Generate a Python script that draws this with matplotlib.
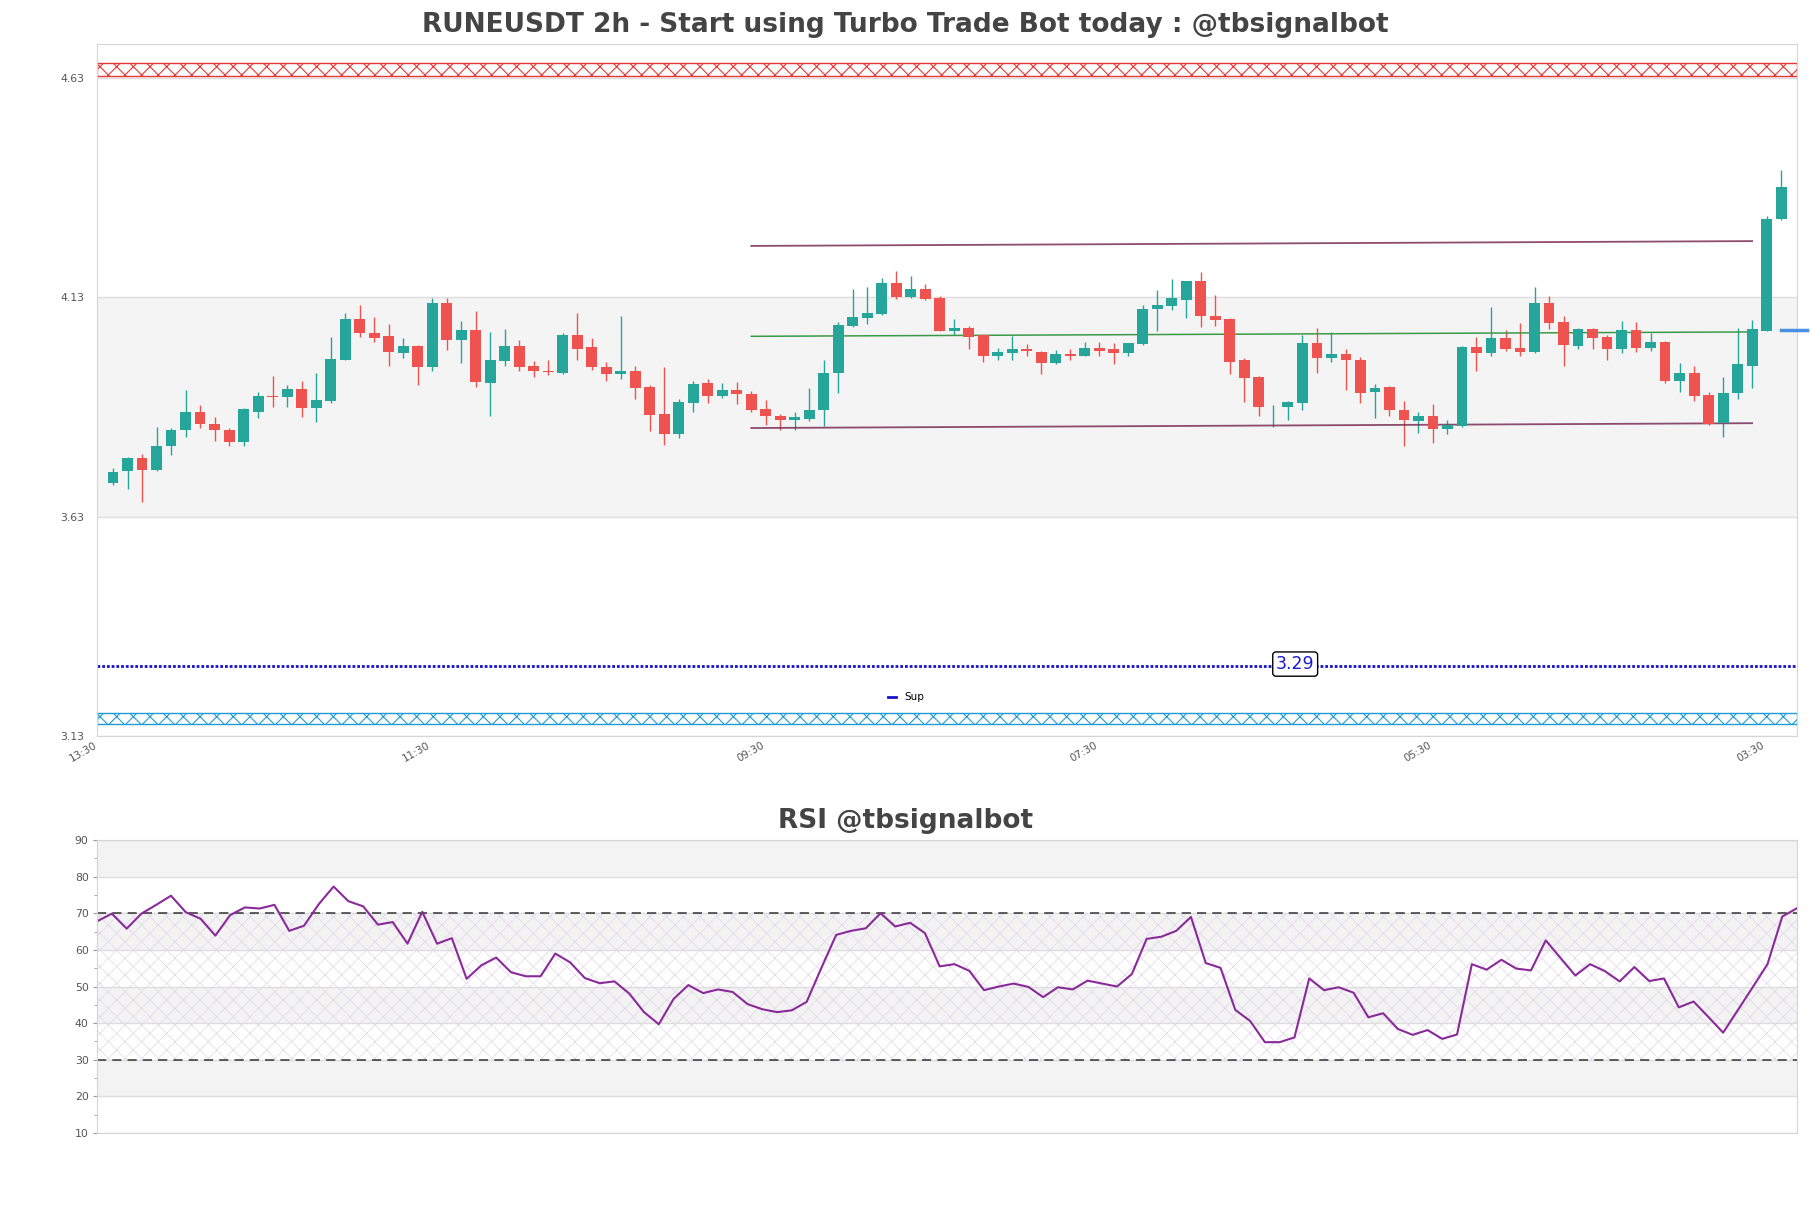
import matplotlib.pyplot as plt
from matplotlib.lines import Line2D
from matplotlib.ticker import MultipleLocator

plt.rcParams['hatch.linewidth'] = 0.8

# candle data (2h candles)
opens = [3.707, 3.734, 3.763, 3.736, 3.791, 3.827, 3.869, 3.842, 3.828, 3.801,
         3.869, 3.906, 3.902, 3.921, 3.877, 3.894, 3.988, 4.080, 4.048, 4.042,
         4.004, 4.019, 3.972, 4.116, 4.033, 4.055, 3.934, 3.984, 4.019, 3.974,
         3.963, 3.958, 4.044, 4.017, 3.971, 3.954, 3.962, 3.926, 3.864, 3.818,
         3.890, 3.935, 3.904, 3.918, 3.910, 3.876, 3.860, 3.850, 3.853, 3.872,
         3.958, 4.065, 4.083, 4.092, 4.162, 4.131, 4.148, 4.128, 4.054, 4.060,
         4.043, 3.997, 4.002, 4.011, 4.005, 3.981, 4.000, 3.997, 4.014, 4.011,
         4.004, 4.023, 4.104, 4.110, 4.124, 4.166, 4.087, 4.080, 3.986, 3.949,
         3.879, 3.879, 3.890, 4.026, 3.992, 4.001, 3.987, 3.913, 3.926, 3.874,
         3.847, 3.860, 3.829, 3.837, 4.017, 4.004, 4.037, 4.014, 4.006, 4.116,
         4.073, 4.020, 4.058, 4.039, 4.011, 4.055, 4.015, 4.028, 3.940, 3.958,
         3.908, 3.843, 3.911, 3.974, 4.054, 4.309]
closes = [3.732, 3.763, 3.736, 3.792, 3.828, 3.869, 3.841, 3.827, 3.800, 3.875,
          3.906, 3.902, 3.921, 3.877, 3.896, 3.989, 4.080, 4.048, 4.038, 4.006,
          4.019, 3.972, 4.116, 4.033, 4.055, 3.936, 3.987, 4.019, 3.972, 3.961,
          3.959, 4.044, 4.013, 3.970, 3.954, 3.962, 3.924, 3.861, 3.819, 3.892,
          3.933, 3.906, 3.918, 3.909, 3.872, 3.859, 3.850, 3.856, 3.872, 3.958,
          4.067, 4.085, 4.094, 4.162, 4.130, 4.148, 4.126, 4.054, 4.060, 4.040,
          3.995, 4.005, 4.011, 4.007, 3.981, 4.000, 3.997, 4.014, 4.008, 4.004,
          4.026, 4.104, 4.113, 4.128, 4.166, 4.088, 4.079, 3.983, 3.946, 3.879,
          3.881, 3.892, 4.026, 3.992, 4.001, 3.986, 3.912, 3.924, 3.872, 3.850,
          3.860, 3.829, 3.840, 4.017, 4.004, 4.037, 4.013, 4.006, 4.116, 4.072,
          4.022, 4.058, 4.038, 4.011, 4.055, 4.015, 4.028, 3.940, 3.958, 3.906,
          3.841, 3.912, 3.978, 4.058, 4.309, 4.382]
highs = [3.740, 3.766, 3.772, 3.835, 3.831, 3.919, 3.885, 3.858, 3.831, 3.878,
         3.915, 3.951, 3.930, 3.940, 3.958, 4.039, 4.095, 4.112, 4.085, 4.069,
         4.037, 4.022, 4.129, 4.129, 4.076, 4.098, 4.051, 4.058, 4.032, 3.985,
         3.988, 4.048, 4.094, 4.038, 3.982, 4.087, 3.974, 3.930, 3.971, 3.899,
         3.940, 3.943, 3.935, 3.937, 3.916, 3.896, 3.864, 3.869, 3.924, 3.986,
         4.073, 4.148, 4.153, 4.173, 4.189, 4.178, 4.160, 4.132, 4.080, 4.064,
         4.045, 4.014, 4.042, 4.023, 4.007, 4.010, 4.011, 4.029, 4.029, 4.025,
         4.026, 4.113, 4.147, 4.171, 4.168, 4.187, 4.135, 4.082, 3.991, 3.951,
         3.884, 3.894, 4.045, 4.060, 4.051, 4.012, 3.993, 3.933, 3.928, 3.893,
         3.869, 3.887, 3.851, 4.020, 4.039, 4.107, 4.055, 4.072, 4.153, 4.133,
         4.087, 4.060, 4.061, 4.043, 4.076, 4.073, 4.049, 4.030, 3.980, 3.974,
         3.915, 3.949, 4.060, 4.078, 4.316, 4.420]
lows = [3.702, 3.693, 3.664, 3.734, 3.770, 3.811, 3.832, 3.802, 3.791, 3.791,
        3.854, 3.881, 3.879, 3.856, 3.845, 3.890, 3.986, 4.040, 4.027, 3.974,
        3.992, 3.931, 3.963, 4.010, 3.981, 3.926, 3.859, 3.974, 3.961, 3.949,
        3.952, 3.956, 3.988, 3.965, 3.940, 3.943, 3.897, 3.825, 3.793, 3.809,
        3.869, 3.888, 3.900, 3.886, 3.869, 3.840, 3.827, 3.828, 3.847, 3.836,
        3.911, 4.063, 4.070, 4.090, 4.126, 4.128, 4.123, 4.052, 4.045, 4.011,
        3.983, 3.988, 3.988, 3.997, 3.955, 3.979, 3.988, 3.995, 3.997, 3.978,
        3.997, 4.021, 4.053, 4.101, 4.083, 4.063, 4.065, 3.954, 3.891, 3.859,
        3.834, 3.850, 3.872, 3.958, 3.982, 3.918, 3.890, 3.854, 3.859, 3.791,
        3.821, 3.797, 3.818, 3.834, 3.963, 3.997, 4.008, 3.997, 4.002, 4.058,
        3.974, 4.011, 4.011, 3.988, 4.002, 4.006, 4.008, 3.934, 3.915, 3.893,
        3.840, 3.811, 3.897, 3.924, 4.052, 4.307]

rsi = [67.8, 69.9, 65.8, 69.9, 72.3, 74.8, 70.3, 68.5, 63.9, 69.5,
       71.6, 71.3, 72.3, 65.2, 66.6, 72.5, 77.3, 73.3, 71.9, 66.9,
       67.6, 61.7, 70.4, 61.7, 63.2, 52.1, 55.8, 57.9, 53.9, 52.8,
       52.8, 59.0, 56.6, 52.3, 50.9, 51.4, 48.1, 43.0, 39.7, 46.6,
       50.4, 48.2, 49.2, 48.5, 45.2, 43.8, 43.0, 43.5, 45.8, 55.1,
       64.1, 65.2, 65.9, 70.0, 66.4, 67.4, 64.6, 55.5, 56.1, 54.3,
       49.0, 50.0, 50.8, 49.9, 47.1, 49.8, 49.2, 51.6, 50.8, 50.0,
       53.4, 63.0, 63.6, 65.2, 69.0, 56.4, 55.1, 43.6, 40.6, 34.8,
       34.8, 36.1, 52.2, 49.0, 49.8, 48.3, 41.6, 42.7, 38.4, 36.8,
       38.1, 35.7, 36.9, 56.1, 54.6, 57.3, 54.9, 54.4, 62.6, 57.8,
       53.0, 56.1, 54.2, 51.4, 55.3, 51.5, 52.2, 44.3, 45.9, 41.7,
       37.4, 43.6, 49.8, 56.1, 69.1, 71.4]

# x tick labels (every 23 candles)
tick_pos = [-1, 22, 45, 68, 91, 114]
tick_labels = ["13:30", "11:30", "09:30", "07:30", "05:30", "03:30"]
price_ticks = [3.13, 3.63, 4.13, 4.63]

# levels and channel
sup_level = 3.29
resist_zone = (4.635, 4.664)
support_zone = (3.157, 3.182)
trend_x = [44, 113]
trend_upper = [4.247, 4.258]
trend_mid = [4.041, 4.051]
trend_lower = [3.832, 3.843]
last_x = [115.0, 116.8]
last_level = [4.055, 4.055]

GREEN = '#26a69a'
RED = '#ef5350'
TXT = '#444444'

fig = plt.figure(figsize=(18.11, 12.08), dpi=100)
ax = fig.add_axes([0.0536, 0.3907, 0.9387, 0.5728])
ax2 = fig.add_axes([0.0536, 0.0621, 0.9387, 0.2425])

# --- price chart ---
ax.axhspan(3.63, 4.13, color='#f4f4f4', zorder=0, lw=0)
for y in price_ticks:
    ax.axhline(y, color='#dedede', lw=1, zorder=0.5)

for i in range(len(opens)):
    o, c = opens[i], closes[i]
    col = GREEN if c >= o else RED
    ax.vlines(i, lows[i], highs[i], color=col, lw=1, zorder=2)
    h = max(abs(c - o), 0.002)
    ax.bar(i, h, bottom=min(o, c), width=0.75, color=col, zorder=3, lw=0)

p = ax.axhspan(*resist_zone, facecolor='none', edgecolor='#e53935', hatch='xx', lw=1, zorder=1)
if hasattr(p, 'set_hatch_linewidth'):
    p.set_hatch_linewidth(0.8)
p = ax.axhspan(*support_zone, facecolor='none', edgecolor='#1e9bd7', hatch='xx', lw=1, zorder=1)
if hasattr(p, 'set_hatch_linewidth'):
    p.set_hatch_linewidth(0.8)

ax.axhline(sup_level, color='#1515c8', ls=(0, (1, 0.7)), lw=2, zorder=2)
ax.text(81.5, sup_level + 0.004, f"{sup_level:.2f}", color='#1a1ad0', fontsize=12.5,
        ha='center', va='center', zorder=5,
        bbox=dict(boxstyle='round,pad=0.18', fc='white', ec='black', lw=1))

ax.plot(trend_x, trend_upper, color='#7a2e55', lw=1.3, alpha=0.85, zorder=2)
ax.plot(trend_x, trend_mid, color='#3a9a4a', lw=1.1, zorder=2)
ax.plot(trend_x, trend_lower, color='#7a2e55', lw=1.3, alpha=0.85, zorder=2)
ax.plot(last_x, last_level, color='#4a90e2', lw=2.5, clip_on=False, zorder=4)

ax.legend(handles=[Line2D([], [], color='#1515c8', lw=2)], labels=['Sup'],
          loc='lower center', bbox_to_anchor=(0.476, 0.035), frameon=False,
          fontsize=7.5, handlelength=0.8)

ax.set_xlim(-1.1, 116.1)
ax.set_ylim(3.13, 4.707)
ax.set_yticks(price_ticks)
ax.set_yticklabels([f"{v:.2f}" for v in price_ticks])
ax.set_xticks(tick_pos)
ax.set_xticklabels(tick_labels, rotation=30, ha='right')
ax.tick_params(axis='x', length=0, labelsize=7.5, labelcolor='#555555', pad=3)
ax.tick_params(axis='y', length=0, labelsize=7.8, labelcolor='#555555', pad=9)
for s in ax.spines.values():
    s.set_color('#d5d5d5')

fig.text(0.5, 0.9795, "RUNEUSDT 2h - Start using Turbo Trade Bot today : @tbsignalbot",
         ha='center', va='center', fontsize=19, fontweight='bold', color=TXT)

# --- RSI ---
for lo in [20, 40, 60, 80]:
    ax2.axhspan(lo, lo + 10, color='#f3f3f3', zorder=0, lw=0)
p = ax2.axhspan(30, 70, facecolor='none', edgecolor='#e0d6e8', hatch='xx', lw=0, zorder=0.5)
if hasattr(p, 'set_hatch_linewidth'):
    p.set_hatch_linewidth(0.5)
for y in range(10, 91, 10):
    ax2.axhline(y, color='#dddddd', lw=1, zorder=0.6)
ax2.axhline(30, color='#333333', ls=(0, (6, 4)), lw=1.1, zorder=1)
ax2.axhline(70, color='#333333', ls=(0, (6, 4)), lw=1.1, zorder=1)
ax2.plot(range(len(rsi)), rsi, color='#8a2a9a', lw=1.5, zorder=2)

ax2.set_xlim(0, len(rsi) - 1)
ax2.set_ylim(10, 90)
ax2.yaxis.set_major_locator(MultipleLocator(10))
ax2.yaxis.set_minor_locator(MultipleLocator(5))
ax2.set_xticks([])
ax2.tick_params(axis='y', which='major', length=3, color='#999999', labelsize=7.8,
                labelcolor='#555555', pad=3)
ax2.tick_params(axis='y', which='minor', length=2, color='#999999')
for s in ax2.spines.values():
    s.set_color('#d5d5d5')

fig.text(0.5, 0.3205, "RSI @tbsignalbot", ha='center', va='center',
         fontsize=19, fontweight='bold', color=TXT)

fig.savefig("out.png", dpi=100)
